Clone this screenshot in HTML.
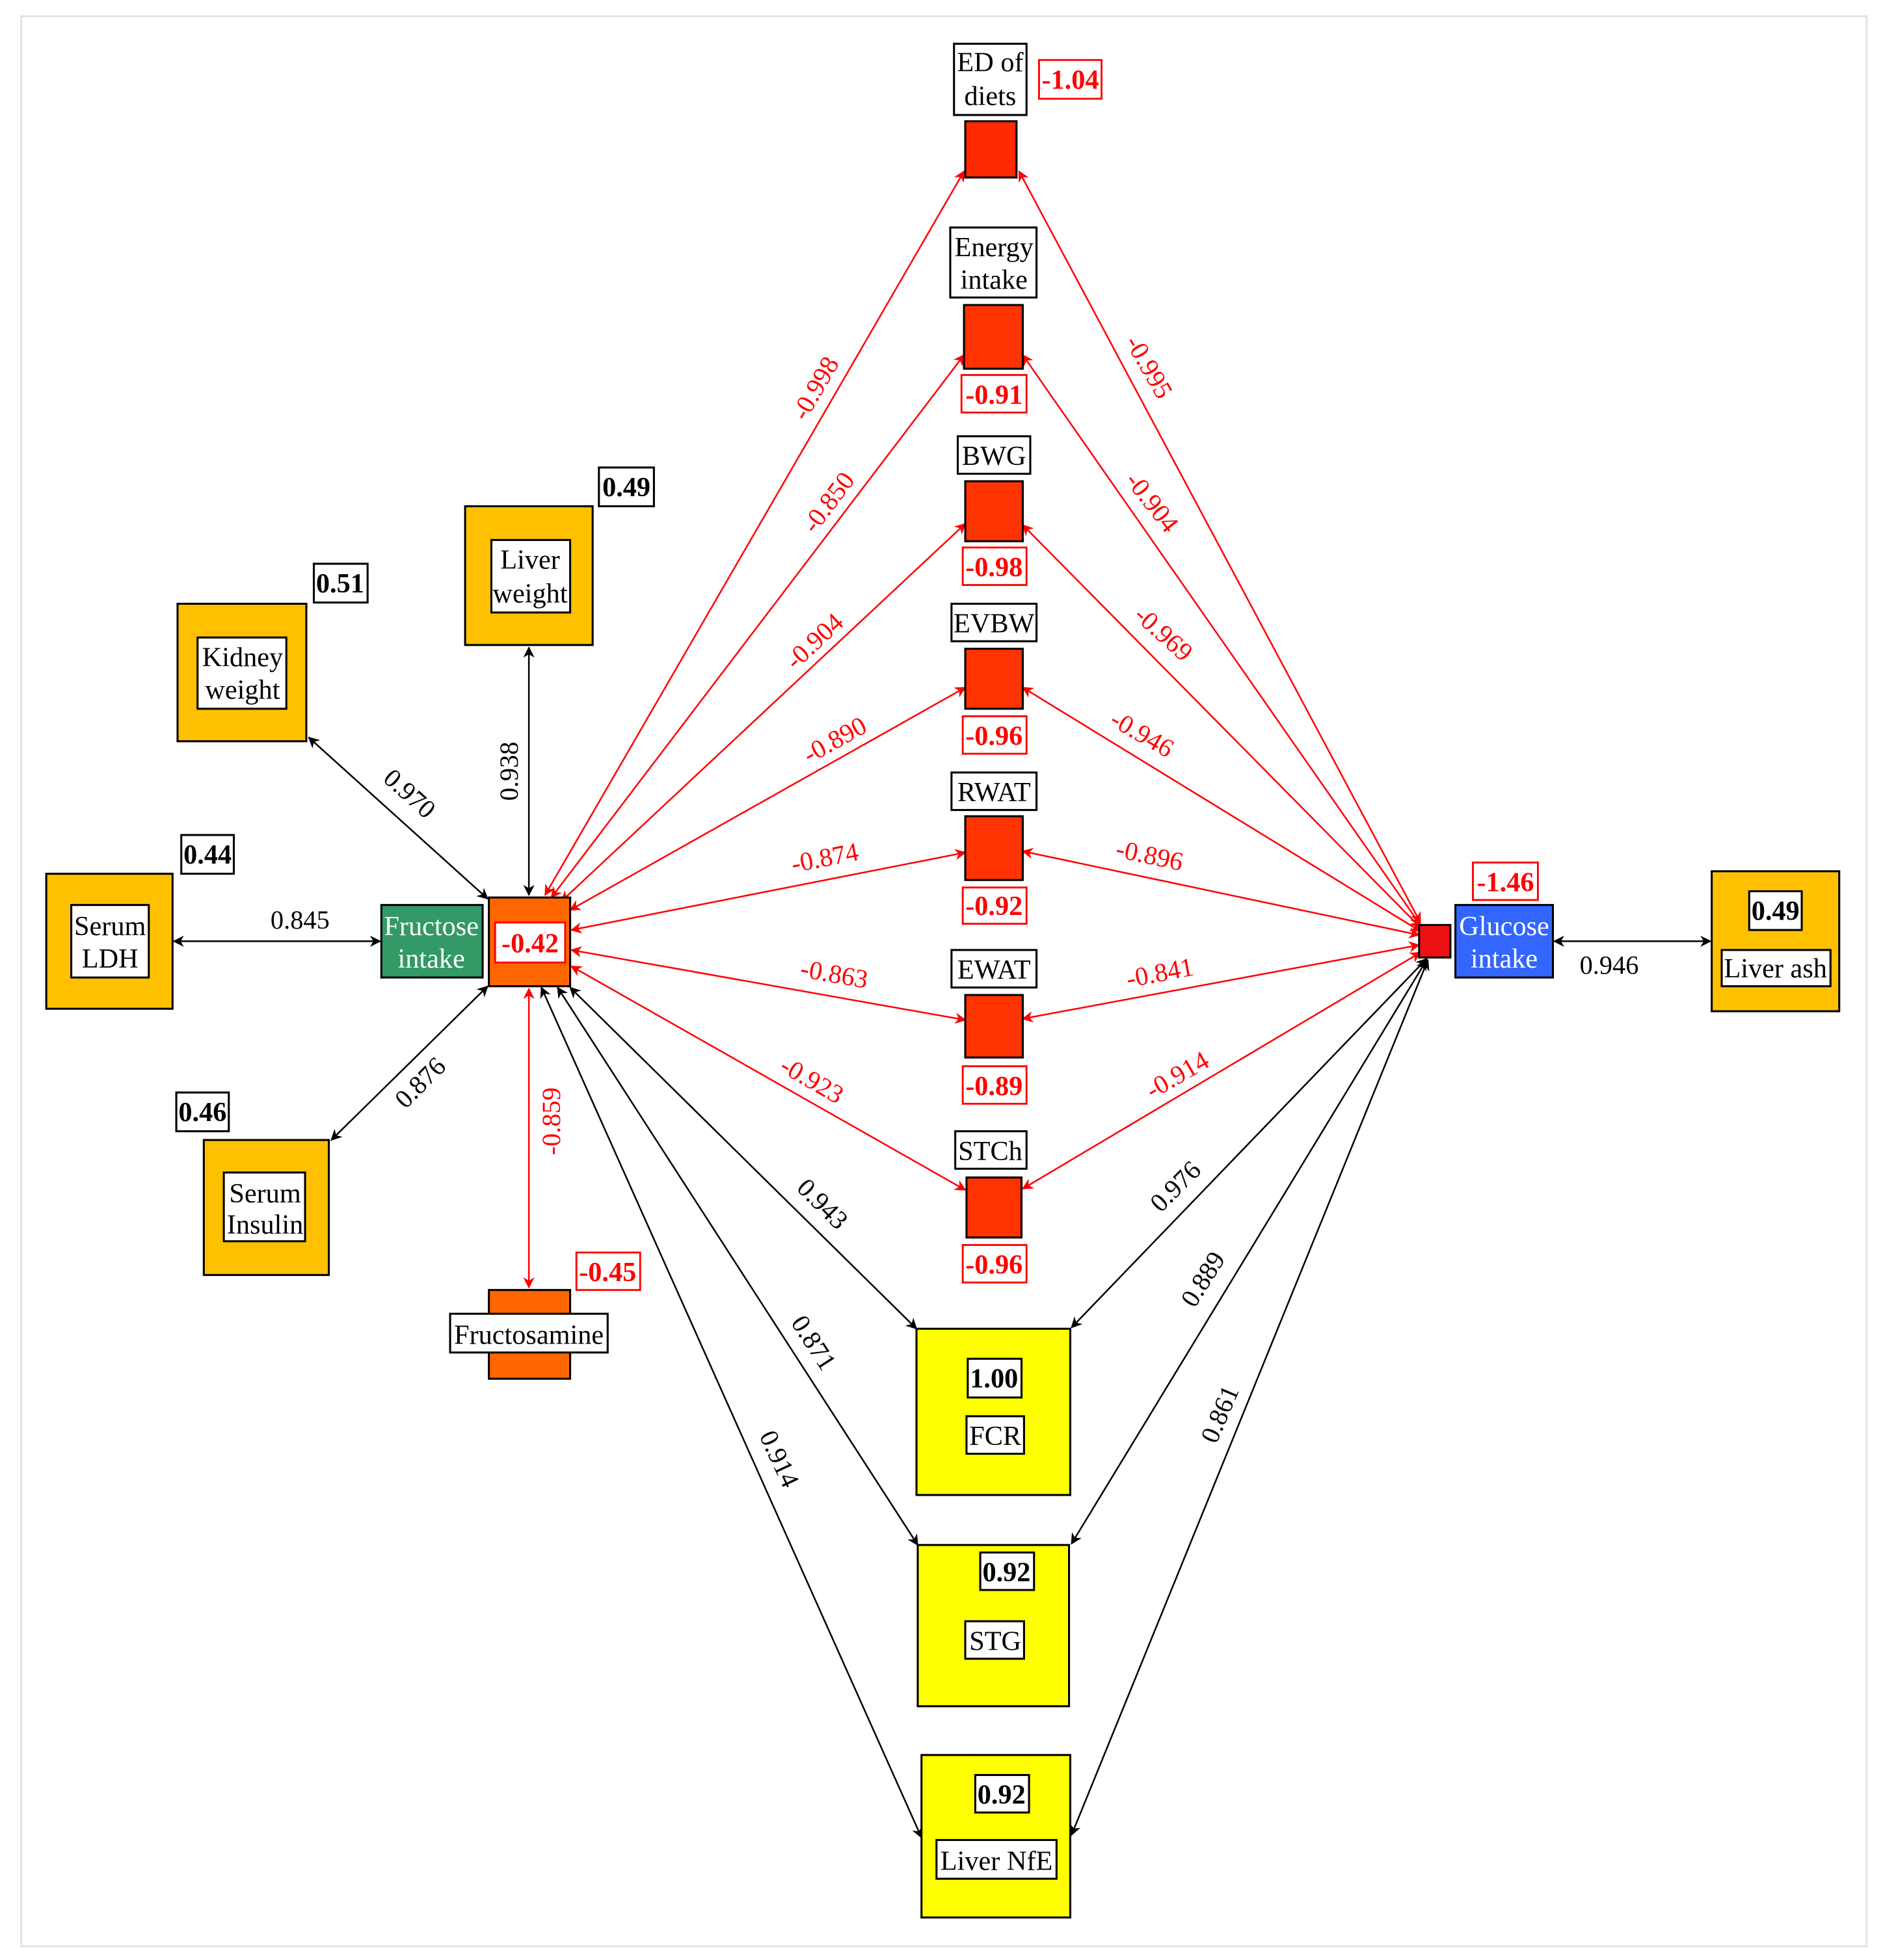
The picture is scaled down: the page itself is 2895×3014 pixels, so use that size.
<!DOCTYPE html>
<html><head><meta charset="utf-8"><style>
html,body{margin:0;padding:0;background:#fff;}
svg{display:block;}
text{font-family:"Liberation Serif",serif;}
</style></head><body>
<svg width="2895" height="3014" viewBox="0 0 1506 1568" preserveAspectRatio="none" xmlns="http://www.w3.org/2000/svg">
<defs>
<marker id="ab" viewBox="0 0 10 10" refX="9" refY="5" markerWidth="10" markerHeight="9" orient="auto-start-reverse" markerUnits="userSpaceOnUse"><path d="M0,0 L10,5 L0,10 L3,5 z" fill="#000"/></marker>
<marker id="ar" viewBox="0 0 10 10" refX="9" refY="5" markerWidth="10" markerHeight="9" orient="auto-start-reverse" markerUnits="userSpaceOnUse"><path d="M0,0 L10,5 L0,10 L3,5 z" fill="#f00"/></marker>
</defs>
<rect x="17" y="13" width="1476" height="1544" fill="#fff" stroke="#e2e2e6" stroke-width="1.5"/>

<g stroke="#000" stroke-width="1.3" fill="none" marker-start="url(#ab)" marker-end="url(#ab)">
<line x1="139" y1="753" x2="304" y2="753"/>
<line x1="247" y1="590" x2="390" y2="719"/>
<line x1="423" y1="518" x2="423" y2="716"/>
<line x1="265" y1="912" x2="390" y2="789"/>
<line x1="456" y1="790" x2="733" y2="1063"/>
<line x1="446" y1="790" x2="734" y2="1236"/>
<line x1="433" y1="790" x2="737" y2="1470"/>
<line x1="1141" y1="767" x2="857" y2="1062"/>
<line x1="1141" y1="768" x2="857" y2="1235"/>
<line x1="1142" y1="768" x2="857" y2="1468"/>
<line x1="1243" y1="753" x2="1368" y2="753"/>
</g>
<g stroke="#f00" stroke-width="1.3" fill="none" marker-start="url(#ar)" marker-end="url(#ar)">
<line x1="423" y1="791" x2="423" y2="1030"/>
<line x1="436" y1="716" x2="771" y2="137"/>
<line x1="441" y1="718" x2="771" y2="284"/>
<line x1="449" y1="721" x2="772" y2="419"/>
<line x1="456" y1="728" x2="772" y2="550"/>
<line x1="457" y1="744" x2="772" y2="682"/>
<line x1="457" y1="760" x2="772" y2="816"/>
<line x1="457" y1="773" x2="772" y2="952"/>
<line x1="815" y1="137" x2="1136" y2="738"/>
<line x1="818" y1="284" x2="1136" y2="740"/>
<line x1="818" y1="420" x2="1136" y2="742"/>
<line x1="818" y1="550" x2="1136" y2="745"/>
<line x1="818" y1="681" x2="1135" y2="748"/>
<line x1="818" y1="815" x2="1135" y2="756"/>
<line x1="818" y1="951" x2="1136" y2="762"/>
</g>

<g font-size="21" fill="#000" text-anchor="middle">
<text x="240" y="743">0.845</text>
<text transform="translate(323,640) rotate(42)">0.970</text>
<text transform="translate(414,617) rotate(-90)">0.938</text>
<text transform="translate(341,871) rotate(-45)">0.876</text>
<text transform="translate(653,968) rotate(45)">0.943</text>
<text transform="translate(645,1078) rotate(57)">0.871</text>
<text transform="translate(617,1170) rotate(65)">0.914</text>
<text transform="translate(945,954) rotate(-45)">0.976</text>
<text transform="translate(968,1027) rotate(-58)">0.889</text>
<text transform="translate(982,1134) rotate(-67)">0.861</text>
<text x="1287" y="779">0.946</text>
</g>
<g font-size="21" fill="#f00" text-anchor="middle">
<text transform="translate(448,897) rotate(-90)">-0.859</text>
<text transform="translate(658,314) rotate(-60)">-0.998</text>
<text transform="translate(668,406) rotate(-53)">-0.850</text>
<text transform="translate(656,518) rotate(-43)">-0.904</text>
<text transform="translate(671,598) rotate(-29)">-0.890</text>
<text transform="translate(661,693) rotate(-11)">-0.874</text>
<text transform="translate(666,786) rotate(10)">-0.863</text>
<text transform="translate(646,870) rotate(30)">-0.923</text>
<text transform="translate(913,297) rotate(60)">-0.995</text>
<text transform="translate(916,406) rotate(52)">-0.904</text>
<text transform="translate(926,512) rotate(42)">-0.969</text>
<text transform="translate(910,593) rotate(30)">-0.946</text>
<text transform="translate(918,691) rotate(12)">-0.896</text>
<text transform="translate(929,785) rotate(-11)">-0.841</text>
<text transform="translate(945,866) rotate(-30)">-0.914</text>
</g>

<g stroke="#000" stroke-width="1.6">
<rect x="763" y="35" width="58" height="57" fill="#fff"/>
<rect x="772" y="97" width="41" height="45" fill="#ff2a00"/>
<rect x="760" y="182" width="69" height="56" fill="#fff"/>
<rect x="771" y="244" width="47" height="51" fill="#ff3300"/>
<rect x="766" y="349" width="58" height="30" fill="#fff"/>
<rect x="772" y="385" width="46" height="48" fill="#ff3300"/>
<rect x="761" y="483" width="68" height="30" fill="#fff"/>
<rect x="772" y="519" width="46" height="48" fill="#ff3300"/>
<rect x="761" y="618" width="68" height="30" fill="#fff"/>
<rect x="772" y="653" width="46" height="51" fill="#ff3300"/>
<rect x="761" y="760" width="68" height="30" fill="#fff"/>
<rect x="772" y="796" width="46" height="50" fill="#ff3300"/>
<rect x="764" y="905" width="57" height="30" fill="#fff"/>
<rect x="773" y="942" width="44" height="48" fill="#ff3300"/>
</g>
<g font-size="22" text-anchor="middle" fill="#000">
<text x="792" y="57">ED of</text><text x="792" y="84">diets</text>
<text x="795" y="205">Energy</text><text x="795" y="231">intake</text>
<text x="795" y="372">BWG</text>
<text x="795" y="506">EVBW</text>
<text x="795" y="641">RWAT</text>
<text x="795" y="783">EWAT</text>
<text x="792" y="928">STCh</text>
</g>
<g stroke="#f00" stroke-width="1.5" fill="#fff">
<rect x="831" y="48" width="50" height="31"/>
<rect x="769" y="300" width="52" height="30"/>
<rect x="770" y="438" width="51" height="30"/>
<rect x="770" y="573" width="51" height="30"/>
<rect x="770" y="710" width="51" height="29"/>
<rect x="770" y="853" width="51" height="30"/>
<rect x="770" y="996" width="51" height="30"/>
<rect x="461" y="1002" width="51" height="30"/>
<rect x="1178" y="690" width="52" height="30"/>
</g>
<g font-size="22" font-weight="bold" text-anchor="middle" fill="#f00">
<text x="856" y="71">-1.04</text>
<text x="795" y="323">-0.91</text>
<text x="795" y="461">-0.98</text>
<text x="795" y="596">-0.96</text>
<text x="795" y="732">-0.92</text>
<text x="795" y="876">-0.89</text>
<text x="795" y="1019">-0.96</text>
<text x="486" y="1025">-0.45</text>
<text x="1204" y="713">-1.46</text>
</g>

<g stroke="#000" stroke-width="1.6">
<rect x="37" y="699" width="101" height="108" fill="#ffc000"/>
<rect x="57" y="724" width="62" height="58" fill="#fff"/>
<rect x="142" y="483" width="103" height="110" fill="#ffc000"/>
<rect x="158" y="510" width="71" height="57" fill="#fff"/>
<rect x="372" y="405" width="102" height="111" fill="#ffc000"/>
<rect x="393" y="432" width="63" height="58" fill="#fff"/>
<rect x="163" y="912" width="100" height="108" fill="#ffc000"/>
<rect x="179" y="938" width="65" height="55" fill="#fff"/>
<rect x="305" y="724" width="81" height="58" fill="#339966"/>
<rect x="391" y="718" width="65" height="71" fill="#ff6600"/>
<rect x="391" y="1032" width="65" height="71" fill="#ff6600"/>
<rect x="360" y="1051" width="126" height="31" fill="#fff"/>
<rect x="145" y="668" width="42" height="31" fill="#fff"/>
<rect x="251" y="451" width="43" height="31" fill="#fff"/>
<rect x="479" y="374" width="44" height="31" fill="#fff"/>
<rect x="141" y="874" width="42" height="31" fill="#fff"/>
<rect x="1135" y="740" width="25" height="26" fill="#ee1111"/>
<rect x="1164" y="724" width="78" height="58" fill="#3366ff"/>
<rect x="1369" y="697" width="102" height="112" fill="#ffc000"/>
<rect x="1399" y="713" width="42" height="31" fill="#fff"/>
<rect x="1377" y="760" width="87" height="29" fill="#fff"/>
<rect x="733" y="1063" width="123" height="133" fill="#ffff00"/>
<rect x="774" y="1087" width="43" height="31" fill="#fff"/>
<rect x="773" y="1133" width="46" height="30" fill="#fff"/>
<rect x="734" y="1236" width="121" height="129" fill="#ffff00"/>
<rect x="784" y="1242" width="43" height="30" fill="#fff"/>
<rect x="772" y="1297" width="47" height="30" fill="#fff"/>
<rect x="737" y="1404" width="119" height="130" fill="#ffff00"/>
<rect x="780" y="1420" width="43" height="30" fill="#fff"/>
<rect x="749" y="1472" width="96" height="31" fill="#fff"/>
</g>
<rect x="396" y="738" width="56" height="32" fill="#fff" stroke="#f00" stroke-width="1.5"/>
<text x="424" y="762" font-size="22" font-weight="bold" text-anchor="middle" fill="#f00">-0.42</text>

<g font-size="22" text-anchor="middle" fill="#000">
<text x="88" y="748">Serum</text><text x="88" y="774">LDH</text>
<text x="194" y="533">Kidney</text><text x="194" y="559">weight</text>
<text x="424" y="455">Liver</text><text x="424" y="482">weight</text>
<text x="212" y="962">Serum</text><text x="212" y="987">Insulin</text>
<text x="423" y="1075">Fructosamine</text>
<text x="1420" y="782">Liver ash</text>
<text x="796" y="1156">FCR</text>
<text x="796" y="1320">STG</text>
<text x="797" y="1496">Liver NfE</text>
</g>
<g font-size="22" text-anchor="middle" fill="#fff">
<text x="345" y="748">Fructose</text><text x="345" y="774">intake</text>
<text x="1203" y="748">Glucose</text><text x="1203" y="774">intake</text>
</g>
<g font-size="22" font-weight="bold" text-anchor="middle" fill="#000">
<text x="166" y="691">0.44</text>
<text x="272" y="474">0.51</text>
<text x="501" y="397">0.49</text>
<text x="162" y="897">0.46</text>
<text x="1420" y="736">0.49</text>
<text x="795" y="1110">1.00</text>
<text x="805" y="1265">0.92</text>
<text x="801" y="1443">0.92</text>
</g>
</svg>
</body></html>
